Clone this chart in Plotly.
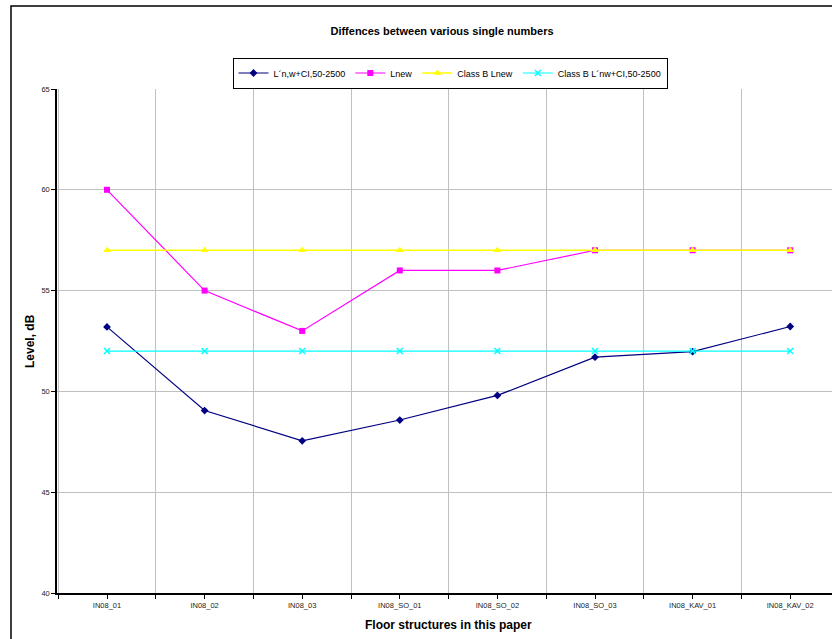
import plotly.graph_objects as go

categories = ["IN08_01", "IN08_02", "IN08_03", "IN08_SO_01", "IN08_SO_02",
              "IN08_SO_03", "IN08_KAV_01", "IN08_KAV_02"]
ln_w_ci = [53.2, 49.05, 47.55, 48.58, 49.8, 51.7, 51.97, 53.22]
lnew = [60, 55, 53, 56, 56, 57, 57, 57]
class_b_lnew = [57, 57, 57, 57, 57, 57, 57, 57]
class_b_lnw = [52, 52, 52, 52, 52, 52, 52, 52]
y_ticks = [40, 45, 50, 55, 60, 65]

W, H = 832, 639
L = 57
T = 89
B = H - 593
PW = W - L
PH = H - T - B
FONT = "Arial, Liberation Sans, sans-serif"

x = list(range(len(categories)))

def px(xp):
    return (xp - L) / PW

def py(yp):
    return (H - B - yp) / PH

fig = go.Figure()
fig.add_trace(go.Scatter(x=x, y=ln_w_ci, name="L\u00b4n,w+CI,50-2500", mode="lines+markers",
                         line=dict(color="#000080", width=1.2),
                         marker=dict(symbol="diamond", size=6, color="#000080")))
fig.add_trace(go.Scatter(x=x, y=lnew, name="Lnew", mode="lines+markers",
                         line=dict(color="#FF00FF", width=1.2),
                         marker=dict(symbol="square", size=6, color="#FF00FF")))
fig.add_trace(go.Scatter(x=x, y=class_b_lnew, name="Class B Lnew", mode="lines+markers",
                         line=dict(color="#FFFF00", width=1.5),
                         marker=dict(symbol="triangle-up", size=7, color="#FFFF00")))
fig.add_trace(go.Scatter(x=x, y=class_b_lnw, name="Class B L\u00b4nw+CI,50-2500", mode="lines+markers",
                         line=dict(color="#00FFFF", width=1.2),
                         marker=dict(symbol="x-thin-open", size=6, color="#00FFFF",
                                     line=dict(color="#00FFFF", width=1.5))))

step = 97.6
x0 = -(107 - 57) / step
x1 = x0 + PW / step

fig.update_layout(
    width=W, height=H,
    margin=dict(l=L, r=0, t=T, b=B, pad=0),
    paper_bgcolor="white", plot_bgcolor="white",
    font=dict(family=FONT, size=9, color="black"),
    title=dict(text="<b>Diffences between various single numbers</b>",
               x=442 / W, xanchor="center", xref="container",
               y=1 - 31 / H, yanchor="middle",
               font=dict(size=11, family=FONT, color="black")),
    showlegend=True,
    legend=dict(orientation="h", x=px(450), xanchor="center", y=py(57.5), yanchor="top",
                bordercolor="black", borderwidth=1, bgcolor="white",
                font=dict(size=9, family=FONT), itemwidth=30,
                tracegroupgap=0),
    xaxis=dict(range=[x0, x1], tickmode="array", tickvals=x, ticktext=categories,
               showgrid=False, zeroline=False, showline=True, linecolor="black", linewidth=1.5,
               ticks="outside", ticklen=4, tickcolor="black",
               tickfont=dict(size=7.5, family=FONT, color="#222"),
               minor=dict(tickvals=[i + 0.5 for i in range(-1, len(categories))],
                          showgrid=True, gridcolor="#c0c0c0", gridwidth=1,
                          ticks="outside", ticklen=4, tickcolor="black")),
    yaxis=dict(range=[40, 65], tickmode="array", tickvals=y_ticks,
               showgrid=True, gridcolor="#c0c0c0", gridwidth=1, zeroline=False,
               showline=True, linecolor="black", linewidth=1.5,
               ticks="outside", ticklen=4, tickcolor="black",
               tickfont=dict(size=7.5, family=FONT, color="#222")),
    annotations=[
        dict(text="<b>Level, dB</b>", xref="paper", yref="paper", x=px(30), y=0.5,
             textangle=-90, showarrow=False, xanchor="center", yanchor="middle",
             font=dict(size=12, family=FONT, color="black")),
        dict(text="<b>Floor structures in this paper</b>", xref="paper", yref="paper",
             x=px(448), y=py(625), showarrow=False, xanchor="center", yanchor="middle",
             font=dict(size=12, family=FONT, color="black")),
    ],
    shapes=[
        dict(type="rect", xref="paper", yref="paper", x0=px(11), y0=py(660), x1=px(870), y1=py(6),
             line=dict(color="black", width=1.5), fillcolor="rgba(0,0,0,0)", layer="below"),
    ],
)

fig.write_html("out.html", config={"displayModeBar": False},
               post_script="document.body.style.margin='0';document.body.style.overflow='hidden';")
